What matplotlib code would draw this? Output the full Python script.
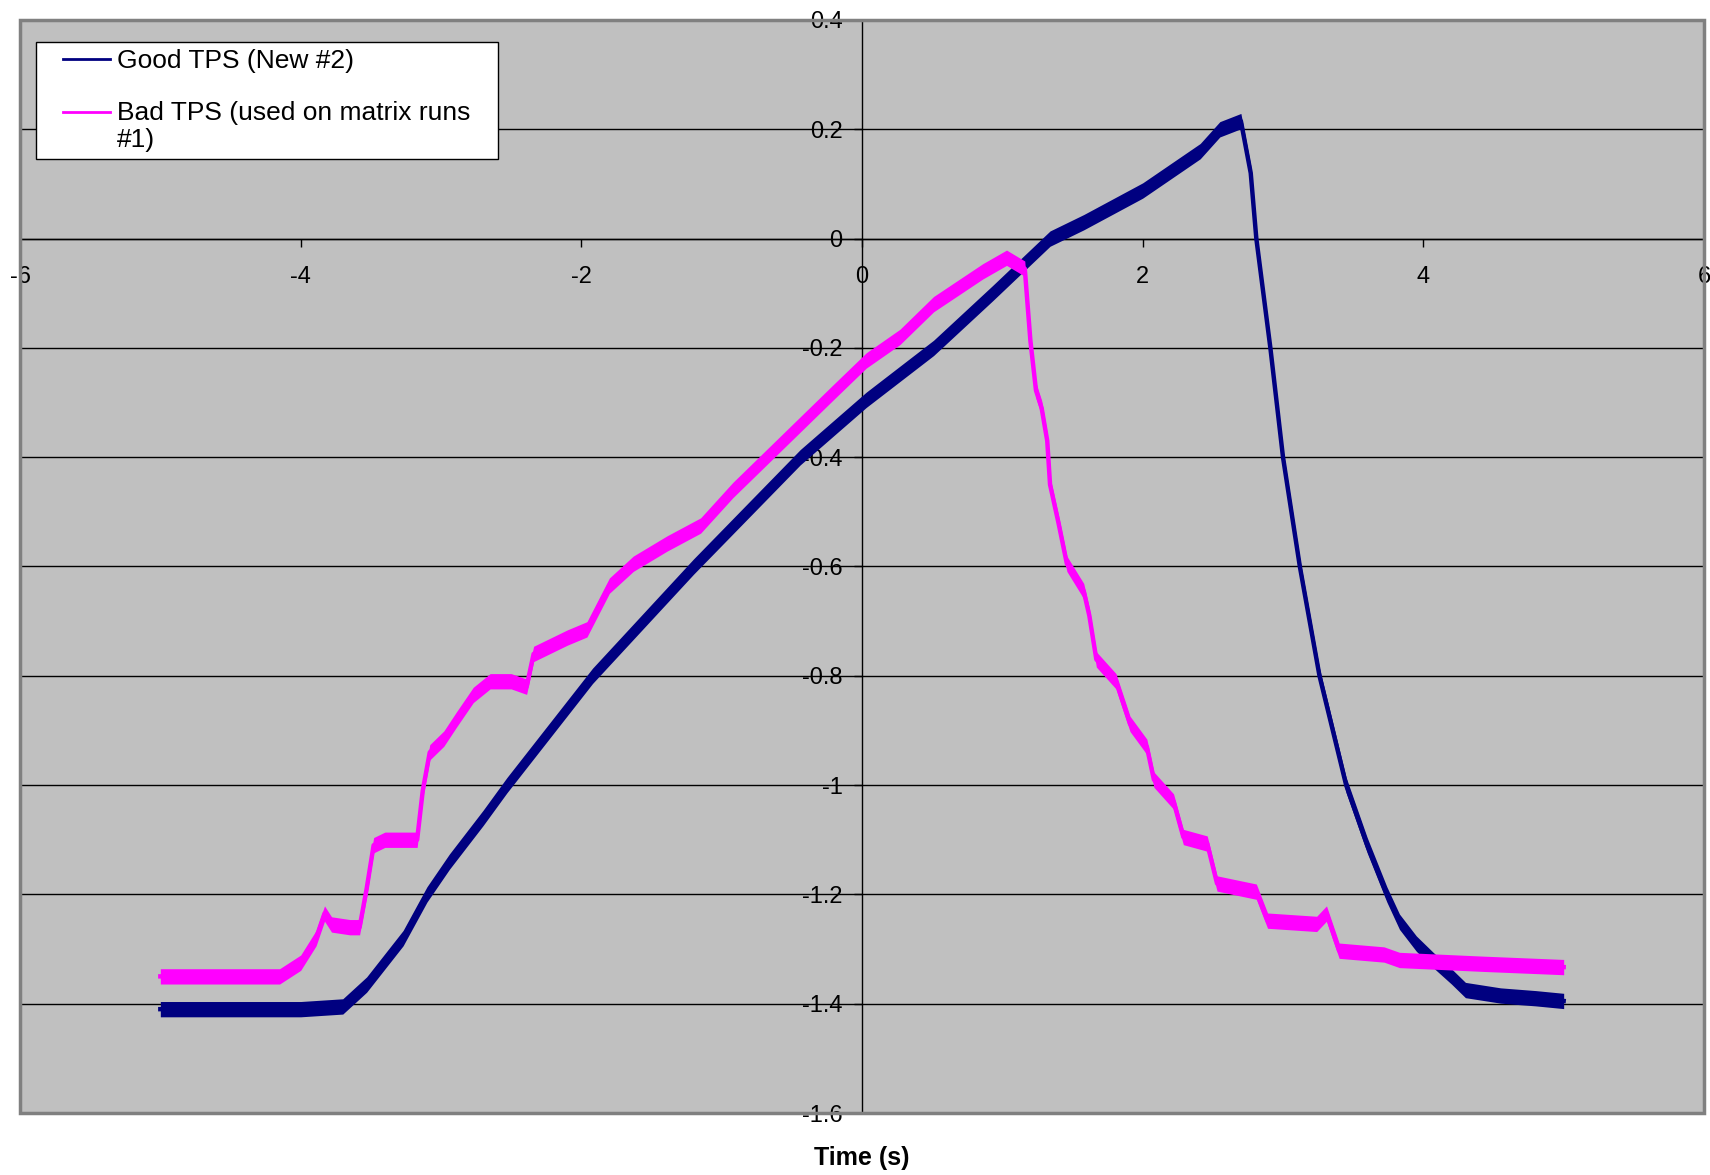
import numpy as np
import matplotlib.pyplot as plt
from matplotlib.patches import Rectangle
from matplotlib.legend_handler import HandlerLine2D

plt.rcParams['font.family'] = ['Liberation Sans', 'DejaVu Sans']
plt.rcParams['axes.unicode_minus'] = False

# Values (time in s)
good_t = [-5.0, -4.5, -4.0, -3.7, -3.53, -3.27, -3.10, -2.94, -2.70, -2.53,
          -1.92, -1.20, -0.44, 0.03, 0.51, 0.93, 1.34, 1.58, 2.0, 2.41,
          2.55, 2.70, 2.77, 2.81, 2.91, 3.00, 3.12, 3.26, 3.45, 3.60,
          3.74, 3.83, 3.95, 4.07, 4.20, 4.30, 4.55, 4.80, 5.0]
good_v = [-1.41, -1.41, -1.41, -1.405, -1.365, -1.28, -1.20, -1.14, -1.06, -1.00,
          -0.80, -0.60, -0.40, -0.295, -0.20, -0.10, 0.0, 0.03, 0.088, 0.16,
          0.20, 0.215, 0.12, 0.0, -0.20, -0.40, -0.60, -0.80, -1.00, -1.11,
          -1.20, -1.25, -1.29, -1.32, -1.35, -1.375, -1.385, -1.39, -1.395]

bad_t = [-5.0, -4.5, -4.15, -4.0, -3.89, -3.83, -3.78, -3.65, -3.58, -3.53,
         -3.48, -3.40, -3.25, -3.17, -3.13, -3.08, -2.98, -2.89, -2.77, -2.65,
         -2.50, -2.39, -2.34, -2.22, -2.10, -1.96, -1.80, -1.63, -1.39, -1.15,
         -0.92, -0.68, -0.44, -0.20, 0.03, 0.27, 0.51, 0.86, 1.03, 1.16,
         1.20, 1.24, 1.28, 1.32, 1.34, 1.40, 1.46, 1.58, 1.62, 1.67,
         1.81, 1.91, 2.03, 2.08, 2.22, 2.29, 2.46, 2.53, 2.81, 2.89,
         3.24, 3.31, 3.40, 3.72, 3.83, 4.43, 5.0]
bad_v = [-1.35, -1.35, -1.35, -1.325, -1.28, -1.235, -1.255, -1.26, -1.26, -1.19,
         -1.11, -1.10, -1.10, -1.10, -1.01, -0.94, -0.915, -0.88, -0.835, -0.81,
         -0.81, -0.82, -0.76, -0.745, -0.73, -0.715, -0.635, -0.595, -0.558, -0.525,
         -0.46, -0.40, -0.34, -0.28, -0.223, -0.18, -0.12, -0.06, -0.035, -0.055,
         -0.187, -0.278, -0.31, -0.37, -0.45, -0.52, -0.595, -0.645, -0.69, -0.77,
         -0.81, -0.888, -0.93, -0.99, -1.03, -1.095, -1.107, -1.18, -1.195, -1.248,
         -1.254, -1.235, -1.303, -1.31, -1.32, -1.327, -1.333]

# half-width of the noise band around each trace
good_noise = 0.014
bad_noise = 0.014

labels = ['Good TPS (New #2)', 'Bad TPS (used on matrix runs\n#1)']
x_ticks = [-6, -4, -2, 0, 2, 4, 6]
x_tick_labels = ['-6', '-4', '-2', '0', '2', '4', '6']
y_ticks = [0.4, 0.2, 0, -0.2, -0.4, -0.6, -0.8, -1.0, -1.2, -1.4, -1.6]
y_tick_labels = ['0.4', '0.2', '0', '-0.2', '-0.4', '-0.6', '-0.8', '-1', '-1.2', '-1.4', '-1.6']

navy = '#000080'
magenta = '#FF00FF'

fig = plt.figure(figsize=(17.1, 11.75), dpi=100)
ax = fig.add_axes([20 / 1710, 62 / 1175, 1684 / 1710, 1093 / 1175])
ax.set_facecolor('#C0C0C0')

gt, gv = np.array(good_t), np.array(good_v)
bt, bv = np.array(bad_t), np.array(bad_v)

ax.fill_between(gt, gv - good_noise, gv + good_noise, color=navy, lw=0, zorder=3)
good_line, = ax.plot(gt, gv, color=navy, lw=3.2, label=labels[0], zorder=3)
ax.fill_between(bt, bv - bad_noise, bv + bad_noise, color=magenta, lw=0, zorder=4)
bad_line, = ax.plot(bt, bv, color=magenta, lw=3.2, label=labels[1], zorder=4)

ax.set_xlim(-6, 6)
ax.set_ylim(-1.6, 0.4)

# axes cross at zero, Excel style
ax.spines['left'].set_position(('data', 0))
ax.spines['bottom'].set_position(('data', 0))
ax.spines['right'].set_visible(False)
ax.spines['top'].set_visible(False)
for s in ('left', 'bottom'):
    ax.spines[s].set_color('black')
    ax.spines[s].set_linewidth(1.0)
    ax.spines[s].set_zorder(2)

ax.set_xticks(x_ticks)
ax.set_xticklabels(x_tick_labels)
ax.set_yticks(y_ticks)
ax.set_yticklabels(y_tick_labels)
ax.tick_params(axis='x', direction='out', length=6, width=1, pad=14, labelsize=17)
ax.tick_params(axis='y', direction='out', length=6, width=1, pad=8, labelsize=17)

ax.set_axisbelow(True)
ax.yaxis.grid(True, color='black', lw=1.0)

# grey outer frame of the plot area
ax.add_patch(Rectangle((0, 0), 1, 1, transform=ax.transAxes, fill=False,
                       edgecolor='#808080', lw=2.5, zorder=6, clip_on=False))

# legend box
ax.add_patch(Rectangle((0.0095, 0.8728), 0.2743, 0.1071, transform=ax.transAxes,
                       facecolor='white', edgecolor='black', lw=1.0, zorder=7))


def first_line_handle(legend_handle, orig_handle):
    # Excel puts the legend key level with the first line of a wrapped label
    legend_handle.update_from(orig_handle)
    legend_handle.set_lw(2.0)
    legend_handle.set_ydata(legend_handle.get_ydata() + 11)


leg = ax.legend(handles=[good_line, bad_line], loc='upper left',
                bbox_to_anchor=(0.0255, 0.9735), frameon=False,
                borderpad=0, borderaxespad=0, fontsize=19, handlelength=1.8,
                handletextpad=0.25, labelspacing=1.05,
                handler_map={bad_line: HandlerLine2D(update_func=first_line_handle),
                             good_line: HandlerLine2D(update_func=lambda h, o: (h.update_from(o), h.set_lw(2.0)))})
leg.get_texts()[1].set_linespacing(1.2)
leg.set_zorder(8)

fig.text(862 / 1710, 1 - 1158 / 1175, 'Time (s)', ha='center', va='center',
         fontsize=18, fontweight='bold')

fig.savefig('out.png', dpi=100)
